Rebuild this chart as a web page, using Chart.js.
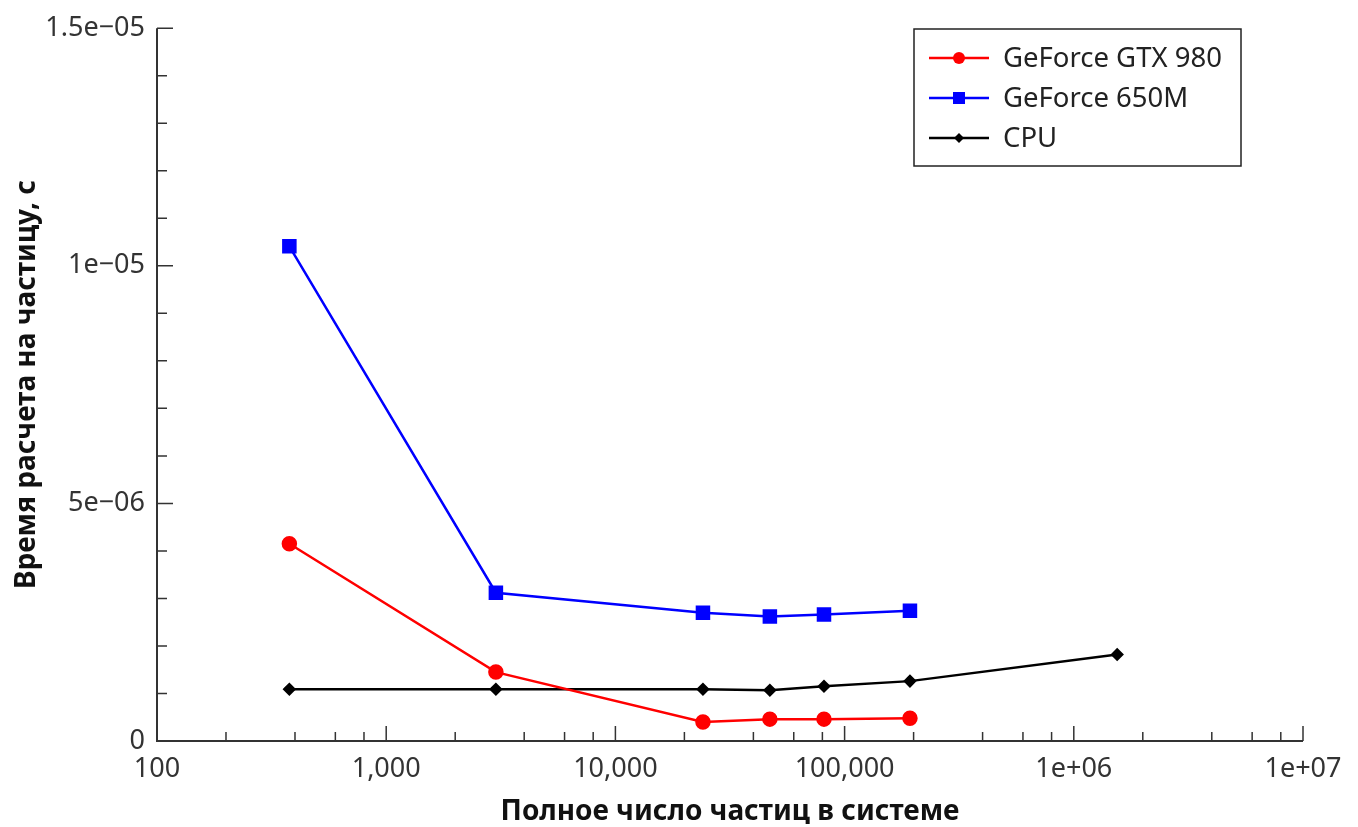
<!DOCTYPE html>
<html>
<head>
<meta charset="utf-8">
<script src="https://cdn.jsdelivr.net/npm/chart.js@4"></script>
<style>
  html, body { margin: 0; padding: 0; background: #fff; }
  #wrap { width: 1358px; height: 827px; }
</style>
</head>
<body>
<div id="wrap"><canvas id="chart" width="1358" height="827"></canvas></div>
<script>
// данные
const particles = [378, 3010, 24100, 47200, 81300, 192800, 1546000];
const gtx980 = [4.15e-6, 1.45e-6, 0.40e-6, 0.46e-6, 0.46e-6, 0.48e-6];
const gf650m = [10.41e-6, 3.12e-6, 2.70e-6, 2.62e-6, 2.66e-6, 2.74e-6];
const cpu = [1.09e-6, 1.09e-6, 1.09e-6, 1.07e-6, 1.15e-6, 1.26e-6, 1.82e-6];

const seriesNames = ['GeForce GTX 980', 'GeForce 650M', 'CPU'];

const xTickValues = [100, 1000, 10000, 100000, 1e6, 1e7];
const xTickLabels = ['100', '1,000', '10,000', '100,000', '1e+06', '1e+07'];
const yTickValues = [0, 5e-6, 1e-5, 1.5e-5];
const yTickLabels = ['0', '5e\u221206', '1e\u221205', '1.5e\u221205'];

const FONT = "'Noto Sans', 'DejaVu Sans', sans-serif";
const AXIS = '#333333';

function toPoints(xs, ys) {
    return ys.map((y, i) => ({ x: xs[i], y: y }));
}

// оси и засечки внутрь
const axisTicks = {
    id: 'axisTicks',
    beforeDatasetsDraw(chart) {
        const ctx = chart.ctx;
        const xs = chart.scales.x;
        const ys = chart.scales.y;
        const area = chart.chartArea;
        ctx.save();
        ctx.strokeStyle = AXIS;
        ctx.lineWidth = 2;
        ctx.beginPath();
        ctx.moveTo(area.left, area.top);
        ctx.lineTo(area.left, area.bottom);
        ctx.lineTo(area.right, area.bottom);
        ctx.stroke();

        ctx.lineWidth = 1.5;
        ctx.beginPath();
        // x: большие и малые засечки
        for (let d = 100; d <= 1e7; d *= 10) {
            const px = xs.getPixelForValue(d);
            ctx.moveTo(px, area.bottom);
            ctx.lineTo(px, area.bottom - 15);
            if (d < 1e7) {
                [2, 4, 6, 8].forEach(m => {
                    const p = xs.getPixelForValue(d * m);
                    ctx.moveTo(p, area.bottom);
                    ctx.lineTo(p, area.bottom - 9);
                });
            }
        }
        // y
        for (let k = 1; k <= 15; k++) {
            const py = ys.getPixelForValue(k * 1e-6);
            const len = (k % 5 === 0) ? 16 : 10;
            ctx.moveTo(area.left, py);
            ctx.lineTo(area.left + len, py);
        }
        ctx.stroke();
        ctx.restore();
    }
};

// легенда в рамке
const boxLegend = {
    id: 'boxLegend',
    afterDraw(chart) {
        const ctx = chart.ctx;
        ctx.save();
        ctx.strokeStyle = '#222';
        ctx.lineWidth = 1.5;
        ctx.strokeRect(914, 29, 327, 137);
        ctx.font = '27.5px ' + FONT;
        ctx.textBaseline = 'middle';
        chart.data.datasets.forEach((ds, i) => {
            const y = 58 + i * 40;
            ctx.strokeStyle = ds.borderColor;
            ctx.lineWidth = 2.5;
            ctx.beginPath();
            ctx.moveTo(929, y);
            ctx.lineTo(989, y);
            ctx.stroke();
            ctx.fillStyle = ds.borderColor;
            ctx.beginPath();
            if (ds.pointStyle === 'circle') {
                ctx.arc(959, y, 6, 0, Math.PI * 2);
            } else if (ds.pointStyle === 'rect') {
                ctx.rect(953, y - 6, 12, 12);
            } else {
                ctx.moveTo(954, y); ctx.lineTo(959, y - 5);
                ctx.lineTo(964, y); ctx.lineTo(959, y + 5);
                ctx.closePath();
            }
            ctx.fill();
            ctx.fillStyle = '#222';
            ctx.fillText(ds.label, 1003, y + 1);
        });
        ctx.restore();
    }
};

const ctx = document.getElementById('chart').getContext('2d');
const chart = new Chart(ctx, {
    type: 'line',
    data: {
        datasets: [
            {
                label: seriesNames[0],
                data: toPoints(particles, gtx980),
                borderColor: '#ff0000',
                backgroundColor: '#ff0000',
                pointStyle: 'circle',
                pointRadius: 6.5,
                borderWidth: 2.5
            },
            {
                label: seriesNames[1],
                data: toPoints(particles, gf650m),
                borderColor: '#0000ff',
                backgroundColor: '#0000ff',
                pointStyle: 'rect',
                pointRadius: 8.5,
                borderWidth: 2.5
            },
            {
                label: seriesNames[2],
                data: toPoints(particles, cpu),
                borderColor: '#000000',
                backgroundColor: '#000000',
                pointStyle: 'rectRot',
                pointRadius: 5,
                borderWidth: 2.5
            }
        ]
    },
    options: {
        responsive: false,
        animation: false,
        layout: { padding: { top: 23, right: 55, left: 0, bottom: 0 } },
        plugins: {
            legend: { display: false },
            tooltip: { enabled: false }
        },
        elements: {
            point: { borderWidth: 0 },
            line: { tension: 0 }
        },
        scales: {
            x: {
                type: 'logarithmic',
                min: 100,
                max: 1e7,
                grid: { display: false, drawTicks: false },
                border: { display: false },
                afterBuildTicks: (scale) => {
                    scale.ticks = xTickValues.map(v => ({ value: v, major: true }));
                },
                afterFit: (scale) => { scale.height = 86; },
                ticks: {
                    autoSkip: false,
                    maxRotation: 0,
                    padding: 12,
                    color: '#333',
                    font: { family: FONT, size: 27 },
                    callback: (val, i) => xTickLabels[i]
                },
                title: {
                    display: true,
                    text: 'Полное число частиц в системе',
                    color: '#111',
                    font: { family: FONT, size: 28, weight: 'bold', lineHeight: 1.0 },
                    padding: { top: 0, bottom: 1 }
                }
            },
            y: {
                type: 'linear',
                min: 0,
                max: 1.5e-5,
                grid: { display: false, drawTicks: false },
                border: { display: false },
                afterBuildTicks: (scale) => {
                    scale.ticks = yTickValues.map(v => ({ value: v }));
                },
                afterFit: (scale) => { scale.width = 157; },
                ticks: {
                    autoSkip: false,
                    padding: 12,
                    color: '#333',
                    font: { family: FONT, size: 27 },
                    callback: (val, i) => yTickLabels[i]
                },
                title: {
                    display: true,
                    text: 'Время расчета на частицу, с',
                    color: '#111',
                    font: { family: FONT, size: 28, weight: 'bold', lineHeight: 1.0 },
                    padding: { top: 13, bottom: 0 }
                }
            }
        }
    },
    plugins: [axisTicks, boxLegend]
});
</script>
</body>
</html>
